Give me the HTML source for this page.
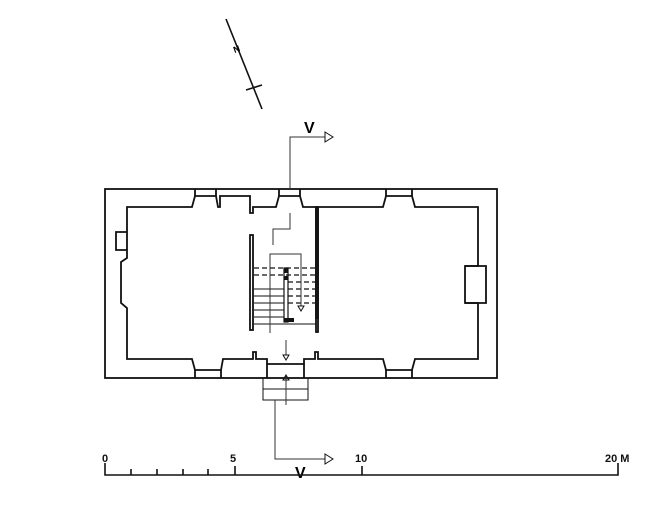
<!DOCTYPE html>
<html><head><style>html,body{margin:0;padding:0;background:#fff}svg{display:block}</style></head>
<body>
<svg width="667" height="512" viewBox="0 0 667 512" xmlns="http://www.w3.org/2000/svg" font-family="Liberation Sans, sans-serif">
<g fill="none" stroke="#111" stroke-width="1.8">
<rect x="105" y="189" width="392" height="189"/>
<path d="M127,207 H192 L195,196 H216 L218,207 H220 V196 H250 V213 H253 V207 H276 L279,196 H300 L303,207 H316 V318 H318 V207 H383 L386,196 H412 L415,207 H478 V266 H465 V303 H478 V359 H415 L412,370 H386 L383,359 H318 V352 H315 V359 H304 V364 H267 V359 H256 V352 H253 V359 H223 L221,370 H195 L192,359 H127 V308 L121,303 V262 L127,258 Z"/>
<path d="M127,250 H116 V232 H127"/>
<path d="M465,266 H486 V303 H465"/>
<path d="M279,196 V189 M300,196 V189"/>
<path d="M195,196 V189 M216,196 V189 M386,196 V189 M412,196 V189"/>
<path d="M195,370 V378 M221,370 V378 M386,370 V378 M412,370 V378"/>
<path d="M267,364 V378 M304,364 V378"/>
<rect x="250" y="235" width="3" height="95"/>
<rect x="316" y="207" width="2" height="125"/>
</g>
<g fill="none" stroke="#111" stroke-width="1">
<path d="M263,378 V400 H308 V378 M263,389 H308"/>
<path d="M254,289 H284 M254,296 H284 M254,303 H284 M254,310 H284 M254,317 H284 M254,324 H316"/>
<path d="M254,268 H316 M254,275 H316 M288,282 H316 M288,289 H316 M288,296 H316 M288,303 H316" stroke-dasharray="5,3" stroke-width="1.2"/>
<rect x="284" y="268" width="4" height="54" stroke-width="1.2"/>
<path d="M270,333 V254 H301 V306" stroke="#333"/>
<path d="M298,306 L304,306 L301,311 Z"/>
<path d="M290,213 V229 H273 V245" stroke="#333"/>
<path d="M290,189 V137 H325" stroke="#333"/>
<path d="M325,132 L333,137 L325,142 Z" fill="#fff"/>
<path d="M275,400 V459 H325 M286,340 V355 M286,375 V405" stroke="#333"/>
<path d="M325,454 L333,459 L325,464 Z" fill="#fff"/>
<path d="M283,355 H289 L286,360 Z M283,380 H289 L286,375 Z"/>
</g>
<rect x="284" y="268" width="4" height="5" fill="#111"/>
<rect x="284" y="276" width="4" height="4" fill="#111"/>
<rect x="284" y="318" width="10" height="4" fill="#111"/>
<g stroke="#111" stroke-width="1.6" fill="none">
<line x1="226" y1="19" x2="262" y2="109"/>
<line x1="246" y1="90" x2="262" y2="85"/>
</g>
<text x="233" y="52" font-size="9" font-weight="bold" transform="rotate(-20 237 48)">N</text>
<text x="304" y="133" font-size="16" font-weight="bold">V</text>
<text x="295" y="478" font-size="16" font-weight="bold">V</text>
<g stroke="#111" stroke-width="1.6">
<path d="M105,463 V475 H618 V463" fill="none"/>
<path d="M131,469 V475 M157,469 V475 M183,469 V475 M208,469 V475 M235,466 V475 M362,466 V475"/>
</g>
<g font-size="11" font-weight="bold" fill="#111">
<text x="102" y="462">0</text>
<text x="230" y="462">5</text>
<text x="355" y="462">10</text>
<text x="605" y="462">20 M</text>
</g>
</svg>
</body></html>
